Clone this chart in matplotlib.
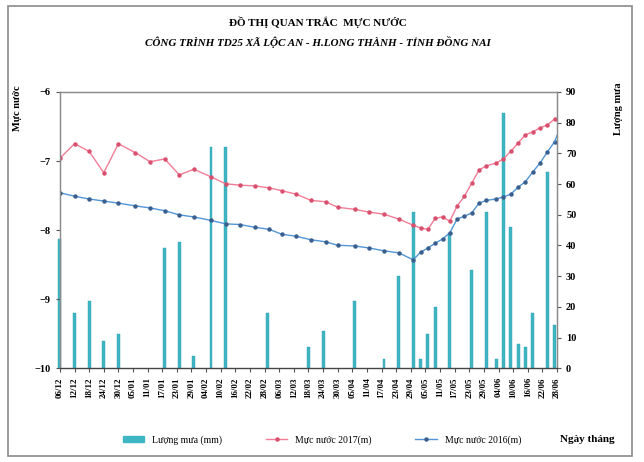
import numpy as np
import pandas as pd
import matplotlib
matplotlib.use('Agg')
import matplotlib.pyplot as plt
import matplotlib.dates as mdates
from matplotlib.patches import Rectangle, Patch
from matplotlib.lines import Line2D

plt.rcParams['font.family'] = ['Liberation Serif', 'DejaVu Serif']

# Lượng mưa (mm)
rain_dates = ['2016-12-06', '2016-12-12', '2016-12-18', '2016-12-24', '2016-12-30',
              '2017-01-18', '2017-01-24', '2017-01-30', '2017-02-06', '2017-02-12',
              '2017-03-01', '2017-03-18', '2017-03-24', '2017-04-06', '2017-04-18',
              '2017-04-24', '2017-04-30', '2017-05-03', '2017-05-06', '2017-05-09',
              '2017-05-15', '2017-05-24', '2017-05-30', '2017-06-03', '2017-06-06',
              '2017-06-09', '2017-06-12', '2017-06-15', '2017-06-18', '2017-06-24',
              '2017-06-27']
rain_mm = [42, 18, 22, 9, 11,
           39, 41, 4, 72, 72,
           18, 7, 12, 22, 3,
           30, 51, 3, 11, 20,
           44, 32, 51, 3, 83,
           46, 8, 7, 18, 64,
           14]

# ngày đo mực nước
level_dates = ['2016-12-06', '2016-12-12', '2016-12-18', '2016-12-24', '2016-12-30',
               '2017-01-06', '2017-01-12', '2017-01-18', '2017-01-24', '2017-01-30',
               '2017-02-06', '2017-02-12', '2017-02-18', '2017-02-24', '2017-03-02',
               '2017-03-07', '2017-03-13', '2017-03-19', '2017-03-25', '2017-03-30',
               '2017-04-06', '2017-04-12', '2017-04-18', '2017-04-24', '2017-04-30',
               '2017-05-03', '2017-05-06', '2017-05-09', '2017-05-12', '2017-05-15',
               '2017-05-18', '2017-05-21', '2017-05-24', '2017-05-27', '2017-05-30',
               '2017-06-03', '2017-06-06', '2017-06-09', '2017-06-12', '2017-06-15',
               '2017-06-18', '2017-06-21', '2017-06-24', '2017-06-27']
level_2017 = [-6.96, -6.75, -6.86, -7.17, -6.75,
              -6.88, -7.01, -6.97, -7.20, -7.12,
              -7.23, -7.33, -7.35, -7.36, -7.39,
              -7.43, -7.48, -7.57, -7.59, -7.67,
              -7.70, -7.74, -7.77, -7.84, -7.93,
              -7.97, -7.99, -7.83, -7.81, -7.87,
              -7.65, -7.51, -7.32, -7.13, -7.07,
              -7.03, -6.97, -6.86, -6.74, -6.62,
              -6.58, -6.52, -6.48, -6.39]
level_2016 = [-7.46, -7.51, -7.55, -7.58, -7.61,
              -7.65, -7.68, -7.72, -7.78, -7.81,
              -7.86, -7.91, -7.92, -7.96, -7.99,
              -8.06, -8.09, -8.14, -8.17, -8.22,
              -8.23, -8.26, -8.30, -8.33, -8.43,
              -8.32, -8.26, -8.19, -8.13, -8.04,
              -7.84, -7.80, -7.75, -7.61, -7.57,
              -7.55, -7.52, -7.48, -7.38, -7.30,
              -7.16, -7.03, -6.87, -6.72]
end_2016 = ('2017-06-28', -6.63)

x_ticks = pd.date_range('2016-12-06', '2017-06-28', freq='6D')

rain_x = pd.to_datetime(rain_dates)
lv_x = pd.to_datetime(level_dates)

fig = plt.figure(figsize=(6.44, 4.62), dpi=100)
fig.patch.set_facecolor('white')
fig.patches.append(Rectangle((0.012, 0.012), 0.97, 0.975, transform=fig.transFigure,
                             fill=False, edgecolor='#8a8a8a', linewidth=1.2))

ax = fig.add_axes([0.093, 0.203, 0.772, 0.598])
ax2 = ax.twinx()
ax.set_zorder(ax2.get_zorder() + 1)
ax.patch.set_visible(False)

bar_c = '#3fb6c3'
pink = '#f27d97'
blue = '#5295d6'

bars = ax2.bar(rain_x, rain_mm, width=1.2, color=bar_c, edgecolor='#2ea0ae', linewidth=0.3)
for b in bars:
    b.set_clip_on(False)
ax2.set_ylim(0, 90)
ax2.set_yticks(np.arange(0, 91, 10))

ax.plot(lv_x, level_2017, color=pink, lw=1.0, marker='o', ms=2.2,
        mfc='#d8506e', mec='#d8506e')
bx = list(lv_x) + [pd.Timestamp(end_2016[0])]
by = level_2016 + [end_2016[1]]
ax.plot(bx[:-1], by[:-1], color=blue, lw=1.0, marker='o', ms=2.2,
        mfc='#3a5f8f', mec='#3a5f8f')
ax.plot(bx[-2:], by[-2:], color=blue, lw=1.0)
ax.set_ylim(-10, -6)
ax.set_yticks([-10, -9, -8, -7, -6])
ax.set_xlim(x_ticks[0], x_ticks[-1])
ax.set_xticks(x_ticks)
ax.xaxis.set_major_formatter(mdates.DateFormatter('%d/%m'))

for a in (ax, ax2):
    for s in a.spines.values():
        s.set_color('#8c8c8c')
        s.set_linewidth(0.9)
    a.tick_params(direction='out', length=3, width=0.8, color='#555555')
ax.spines['bottom'].set_color('#444444')

for lab in ax.get_xticklabels():
    lab.set_rotation(90)
    lab.set_fontsize(6.5)
    lab.set_fontweight('bold')
for lab in ax.get_yticklabels() + ax2.get_yticklabels():
    lab.set_fontsize(7.5)
    lab.set_fontweight('bold')

fig.text(0.494, 0.952, 'ĐỒ THỊ QUAN TRẮC  MỰC NƯỚC', ha='center', va='center',
         fontsize=8, fontweight='bold')
fig.text(0.494, 0.909, 'CÔNG TRÌNH TD25 XÃ LỘC AN - H.LONG THÀNH - TỈNH ĐỒNG NAI',
         ha='center', va='center', fontsize=8, fontweight='bold', style='italic')
fig.text(0.027, 0.765, 'Mực nước', rotation=90, ha='center', va='center',
         fontsize=7.5, fontweight='bold')
fig.text(0.961, 0.765, 'Lượng mưa', rotation=90, ha='center', va='center',
         fontsize=7.5, fontweight='bold')

handles = [Patch(facecolor=bar_c, edgecolor=bar_c),
           Line2D([], [], color=pink, lw=1, marker='o', ms=2.2, mfc='#d8506e', mec='#d8506e'),
           Line2D([], [], color=blue, lw=1, marker='o', ms=2.2, mfc='#3a5f8f', mec='#3a5f8f')]
fig.legend(handles, ['Lượng mưa (mm)', 'Mực nước 2017(m)', 'Mực nước 2016(m)'],
           loc='center', bbox_to_anchor=(0.5, 0.048), ncol=3, frameon=False,
           fontsize=7, columnspacing=4.5, handlelength=2.2)
fig.text(0.955, 0.048, 'Ngày tháng', ha='right', va='center', fontsize=8, fontweight='bold')

fig.savefig('out.png', dpi=100)
